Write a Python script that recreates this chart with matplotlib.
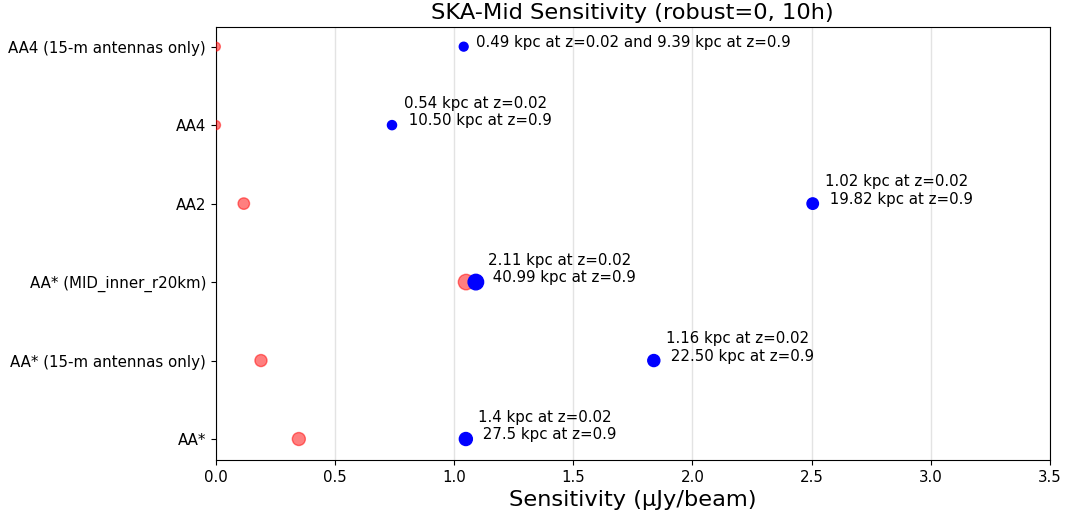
import matplotlib
matplotlib.use('Agg')
import matplotlib.pyplot as plt
import numpy as np

configs = ['AA*', 'AA* (15-m antennas only)', 'AA* (MID_inner_r20km)',
           'AA2', 'AA4', 'AA4 (15-m antennas only)']
sens_red = [0.348, 0.189, 1.05, 0.117, 0.0, 0.0]
sens_blue = [1.049, 1.838, 1.091, 2.505, 0.739, 1.04]
kpc_low = [1.4, 1.16, 2.11, 1.02, 0.54, 0.49]
labels = ['1.4 kpc at z=0.02\n 27.5 kpc at z=0.9',
          '1.16 kpc at z=0.02\n 22.50 kpc at z=0.9',
          '2.11 kpc at z=0.02\n 40.99 kpc at z=0.9',
          '1.02 kpc at z=0.02\n 19.82 kpc at z=0.9',
          '0.54 kpc at z=0.02\n 10.50 kpc at z=0.9',
          '0.49 kpc at z=0.02 and 9.39 kpc at z=0.9']

y = np.arange(len(configs))
# marker size grows with the resolution
sizes = 15 + 52 * np.array(kpc_low)

plt.rcParams['font.size'] = 10.8

fig = plt.figure(figsize=(10.69, 5.2), dpi=100)
ax = fig.add_axes([0.202, 0.115, 0.78, 0.833])

ax.scatter(sens_red, y, s=sizes, color='red', alpha=0.5, zorder=3)
ax.scatter(sens_blue, y, s=sizes, color='blue', zorder=3)

for xi, yi, lab in zip(sens_blue, y, labels):
    ax.annotate(lab, (xi, yi), xytext=(9, 0), textcoords='offset points',
                va='baseline', fontsize=10.8)

ax.set_yticks(y)
ax.set_yticklabels(configs)
ax.set_xlim(0, 3.5)
ax.set_ylim(-0.27, 5.25)
ax.grid(axis='x', color='#e3e3e3', linewidth=1, zorder=0)
ax.set_axisbelow(True)
ax.set_xlabel('Sensitivity (µJy/beam)', fontsize=16.2)
ax.set_title('SKA-Mid Sensitivity (robust=0, 10h)', fontsize=16.2)

fig.savefig('out.png', dpi=100)
